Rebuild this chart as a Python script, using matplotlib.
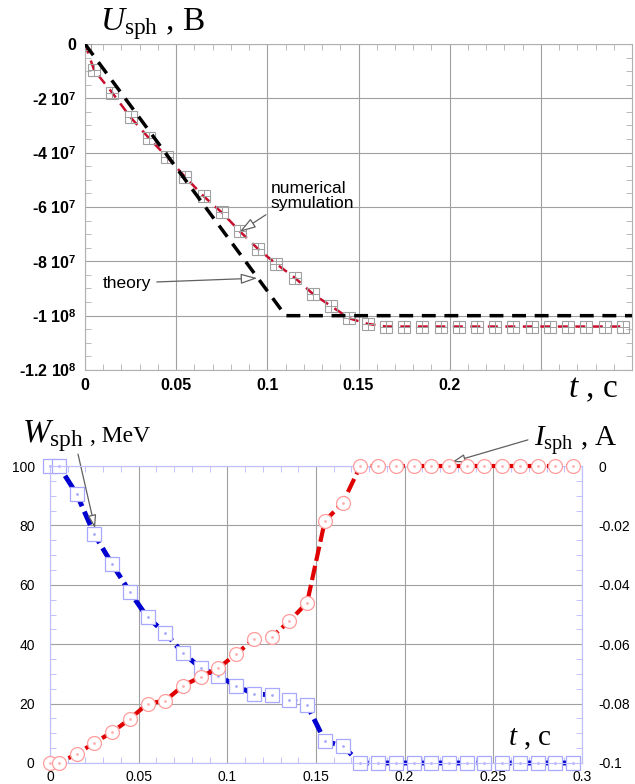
import numpy as np
import matplotlib
matplotlib.use("Agg")
import matplotlib.pyplot as plt
from matplotlib.ticker import MultipleLocator, FixedLocator

plt.rcParams['font.family'] = ['Liberation Sans', 'DejaVu Sans']
plt.rcParams['mathtext.fontset'] = 'custom'
plt.rcParams['mathtext.rm'] = 'Liberation Serif'
plt.rcParams['mathtext.it'] = 'Liberation Serif:italic'
plt.rcParams['mathtext.bf'] = 'Liberation Sans:bold'

# ---- top panel data: U_sph(t) ----
t_theory = [0.0, 0.11, 0.3]
u_theory = [0.0, -1.0e8, -1.0e8]

t_num = [0.0, 0.005, 0.015, 0.025, 0.035, 0.045, 0.055, 0.065, 0.075, 0.085,
         0.095, 0.105, 0.115, 0.125, 0.135, 0.145, 0.155, 0.165, 0.175, 0.185,
         0.195, 0.205, 0.215, 0.225, 0.235, 0.245, 0.255, 0.265, 0.275, 0.285,
         0.295]
u_num = [0.0, -0.96e7, -1.8e7, -2.7e7, -3.46e7, -4.16e7, -4.9e7, -5.6e7,
         -6.2e7, -6.9e7, -7.55e7, -8.1e7, -8.6e7, -9.2e7, -9.65e7, -1.01e8,
         -1.03e8, -1.04e8, -1.04e8, -1.04e8, -1.04e8, -1.04e8, -1.04e8,
         -1.04e8, -1.04e8, -1.04e8, -1.04e8, -1.04e8, -1.04e8, -1.04e8,
         -1.04e8]

top_xticks = [0, 0.05, 0.1, 0.15, 0.2, 0.25]
top_xlabels = ["0", "0.05", "0.1", "0.15", "0.2", ""]
top_yticks = [0, -2e7, -4e7, -6e7, -8e7, -1e8, -1.2e8]
top_ylabels = ["0", r"-2 10$^{\mathbf{7}}$", r"-4 10$^{\mathbf{7}}$",
               r"-6 10$^{\mathbf{7}}$", r"-8 10$^{\mathbf{7}}$",
               r"-1 10$^{\mathbf{8}}$", r"-1.2 10$^{\mathbf{8}}$"]

# ---- bottom panel data: W_sph(t) and I_sph(t) ----
t_b = [0.0, 0.005, 0.015, 0.025, 0.035, 0.045, 0.055, 0.065, 0.075, 0.085,
       0.095, 0.105, 0.115, 0.125, 0.135, 0.145, 0.155, 0.165, 0.175, 0.185,
       0.195, 0.205, 0.215, 0.225, 0.235, 0.245, 0.255, 0.265, 0.275, 0.285,
       0.295]
w_sph = [100, 100, 90.6, 77, 67, 57.6, 49, 43.8, 37, 32, 29.3, 26, 23.2, 23,
         21.2, 19.5, 7.4, 5.7, 0, 0, 0, 0, 0, 0, 0, 0, 0, 0, 0, 0, 0]
i_sph = [-0.1, -0.1, -0.097, -0.0932, -0.0896, -0.0852, -0.080, -0.079,
         -0.074, -0.071, -0.068, -0.0633, -0.0583, -0.0576, -0.0522, -0.046,
         -0.0185, -0.0125, 0, 0, 0, 0, 0, 0, 0, 0, 0, 0, 0, 0, 0]

bot_xticks = [0, 0.05, 0.1, 0.15, 0.2, 0.25, 0.3]
bot_xlabels = ["0", "0.05", "0.1", "0.15", "0.2", "0.25", "0.3"]
w_ticks = [0, 20, 40, 60, 80, 100]
i_ticks = [0, -0.02, -0.04, -0.06, -0.08, -0.1]
i_labels = ["0", "-0.02", "-0.04", "-0.06", "-0.08", "-0.1"]

fig = plt.figure(figsize=(6.35, 7.84), dpi=100)

# ================= top panel =================
ax1 = fig.add_axes([85/635, 1-370/784, 547/635, 326/784])
ax1.set_xlim(0, 0.3)
ax1.set_ylim(-1.2e8, 0)
ax1.xaxis.set_major_locator(FixedLocator(top_xticks))
ax1.set_xticklabels(top_xlabels, fontsize=11.5, fontweight='bold')
ax1.yaxis.set_major_locator(FixedLocator(top_yticks))
ax1.set_yticklabels(top_ylabels, fontsize=11.5, fontweight='bold')
ax1.xaxis.set_minor_locator(MultipleLocator(0.01))
ax1.yaxis.set_minor_locator(MultipleLocator(5e6))
ax1.grid(True, which='major', color='#a0a0a0', lw=0.8)
ax1.tick_params(which='major', length=0, pad=6)
ax1.tick_params(which='minor', direction='in', length=4, color='#b0b0b0',
                top=True, right=True)
for s in ax1.spines.values():
    s.set_color('#b0b0b0')
    s.set_linewidth(0.8)

ax1.plot(t_num, u_num, color='#c8102e', lw=1.8, ls=(0, (4, 3)), zorder=3,
         marker='s', ms=8.5, mfc='none', mec='#a0a0a0', mew=0.8)
ax1.plot(t_num, u_num, ls='none', marker='+', ms=8, mec='#a0a0a0',
         mew=0.7, zorder=4)
ax1.plot(t_theory, u_theory, color='black', lw=2.5, ls=(0, (4, 2.5)),
         zorder=5)

ax1.annotate("theory", xy=(0.0945, -8.62e7), xytext=(0.0098, -8.8e7),
             fontsize=12.5, ha='left', va='center',
             arrowprops=dict(arrowstyle='-|>,head_length=0.8,head_width=0.25',
                             fc='white', ec='#606060', lw=0.9,
                             shrinkA=2, shrinkB=0))
ax1.annotate("numerical\nsymulation", xy=(0.0847, -6.92e7),
             xytext=(0.102, -5.6e7), fontsize=12.5, ha='left', va='center',
             linespacing=1.05,
             arrowprops=dict(arrowstyle='-|>,head_length=0.8,head_width=0.25',
                             fc='white', ec='#606060', lw=0.9,
                             shrinkA=2, shrinkB=0, relpos=(0.0, 0.0)))

fig.text(100/635, 1-30/784, r"$U_{\rm sph}$ , B", fontsize=24,
         family='Liberation Serif', ha='left', va='baseline')
fig.text(568/635, 1-397/784, r"$t$ , c", fontsize=24,
         family='Liberation Serif', ha='left', va='baseline')

# ================= bottom panel =================
ax2 = fig.add_axes([50/635, 1-763/784, 532/635, 297/784])
ax3 = ax2.twinx()
ax2.set_xlim(0, 0.3)
ax2.set_ylim(0, 100)
ax3.set_ylim(-0.1, 0)
ax2.xaxis.set_major_locator(FixedLocator(bot_xticks))
ax2.set_xticklabels(bot_xlabels, fontsize=10)
ax2.yaxis.set_major_locator(FixedLocator(w_ticks))
ax2.set_yticklabels([str(v) for v in w_ticks], fontsize=10)
ax3.yaxis.set_major_locator(FixedLocator(i_ticks))
ax3.set_yticklabels(i_labels, fontsize=10)
ax2.xaxis.set_minor_locator(MultipleLocator(0.01))
ax2.yaxis.set_minor_locator(MultipleLocator(5))
ax3.yaxis.set_minor_locator(MultipleLocator(0.005))
ax2.grid(True, which='major', color='#a0a0a0', lw=0.8)
ax2.tick_params(axis='x', which='major', length=0, pad=5)
ax2.tick_params(axis='y', which='major', length=0, pad=11)
ax3.tick_params(which='major', length=0, pad=12)
ax2.tick_params(which='minor', direction='in', length=4, color='#b8b8ff',
                top=True)
ax3.tick_params(which='minor', direction='in', length=4, color='#b8b8ff')
for a in (ax2, ax3):
    for s in a.spines.values():
        s.set_color('#c0c0ff')
        s.set_linewidth(0.8)

ax2.plot(t_b, w_sph, color='#0000d0', lw=3.5, ls=(0, (3, 1.2)), zorder=3,
         marker='s', ms=10, mfc='white', mec='#a8a8ff', mew=0.9,
         clip_on=False)
ax2.plot(t_b, w_sph, ls='none', marker='.', ms=2, mec='#a8a8ff',
         mfc='#a8a8ff', zorder=4, clip_on=False)
ax3.plot(t_b, i_sph, color='#e00000', lw=3, ls=(0, (3.5, 1.2)), zorder=3,
         marker='o', ms=10, mfc='white', mec='#ff9c9c', mew=0.9,
         clip_on=False)
ax3.plot(t_b, i_sph, ls='none', marker='.', ms=2, mec='#ffb0b0',
         mfc='#ffb0b0', zorder=4, clip_on=False)

ax2.annotate("", xy=(0.0254, 79), xytext=(0.0158, 104),
             arrowprops=dict(arrowstyle='-|>,head_length=0.8,head_width=0.25',
                             fc='white', ec='#606060', lw=0.9,
                             shrinkA=0, shrinkB=0), annotation_clip=False)
ax2.annotate("", xy=(0.2266, 101.3), xytext=(0.2695, 108.8),
             arrowprops=dict(arrowstyle='-|>,head_length=0.8,head_width=0.25',
                             fc='white', ec='#606060', lw=0.9,
                             shrinkA=0, shrinkB=0), annotation_clip=False)

fig.text(22/635, 1-442/784, r"$W_{\rm sph}$", fontsize=24,
         family='Liberation Serif', ha='left', va='baseline')
fig.text(90/635, 1-442/784, ", MeV", fontsize=17,
         family='Liberation Serif', ha='left', va='baseline')
fig.text(534/635, 1-446/784, r"$I_{\rm sph}$ , A", fontsize=21,
         family='Liberation Serif', ha='left', va='baseline')
fig.text(508/635, 1-745/784, r"$t$ , c", fontsize=21,
         family='Liberation Serif', ha='left', va='baseline')

fig.savefig("out.png", dpi=100)
